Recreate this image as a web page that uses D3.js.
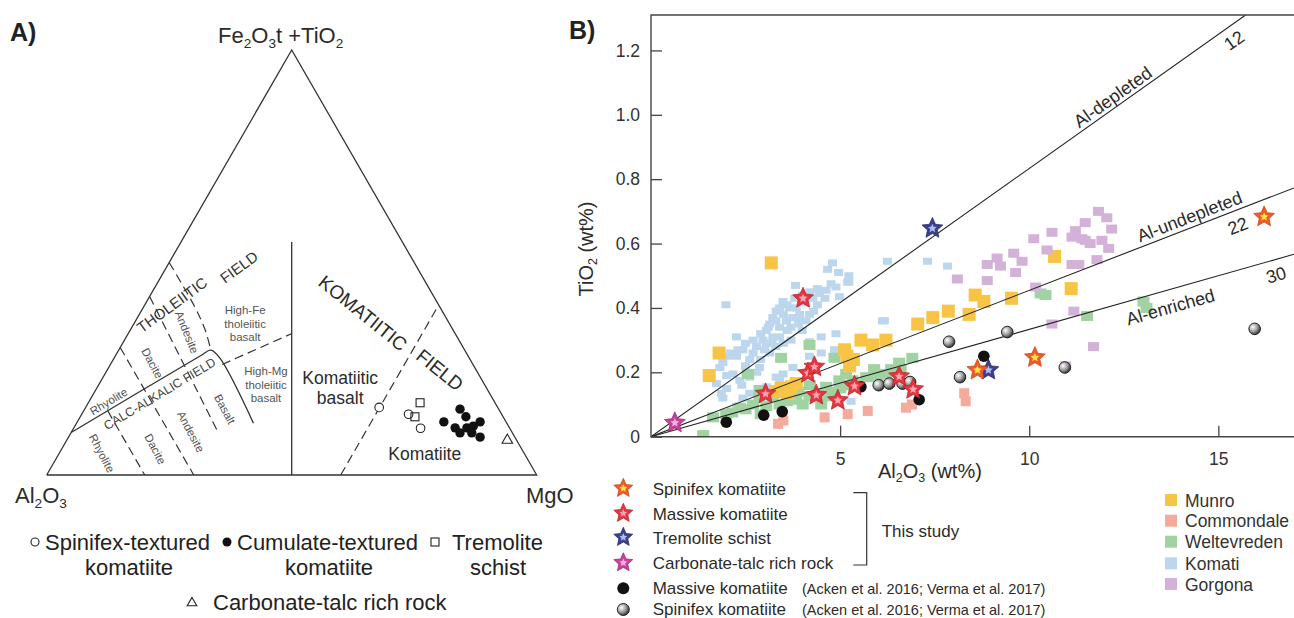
<!DOCTYPE html>
<html>
<head>
<meta charset="utf-8">
<script src="https://cdn.jsdelivr.net/npm/d3@7"></script>
<style>
  html, body { margin: 0; padding: 0; background: #fff; }
  svg { display: block; font-family: Arial, "Liberation Sans", Helvetica, sans-serif; }
</style>
</head>
<body>
<svg id="fig" width="1294" height="618"></svg>
<script>
// ================= Panel A: Jensen cation plot (Al, Fe+Ti, Mg; %) =================
const spinifexTern  = [[24.2, 15.9, 59.9], [19.0, 14.3, 66.7], [18.2, 11.0, 70.8]];
const tremoliteTern = [[15.3, 17.0, 67.7], [18.0, 13.7, 68.3]];
const cumulateTern  = [[7.9, 15.5, 76.6], [12.7, 12.5, 74.8], [7.6, 13.7, 78.7], [11.1, 11.1, 77.8],
                       [8.7, 11.1, 80.2], [5.3, 12.5, 82.2], [10.7, 9.9, 79.4], [8.3, 9.9, 81.8],
                       [7.1, 8.9, 84.0], [7.2, 11.5, 81.3]];
const carbonateTern = [[1.9, 8.2, 89.9]];

// field boundaries (ternary points)
const thCaBoundary   = [[90, 10, 0], [54.7, 28, 17.3], [51.8, 29.4, 18.8], [50.9, 27.5, 21.6], [51.7, 12.2, 36.1]];
const komatiiteSplit = [[50, 0, 50], [22.6, 54.8, 22.6]];
const dashedAl80     = [[80, 15.1, 4.9], [80, 0, 20]];
const dashedAl70     = [[70, 30, 0], [70, 0, 30]];
const dashedAl60     = [[58, 42, 0], [60, 10.2, 29.8]];
const dashedAl50     = [[50, 50, 0], [50, 39.6, 10.4], [50.6, 34.1, 15.3], [51.8, 29.4, 18.8]];
const dashedHighFeMg = [[51.2, 26, 22.8], [33.3, 33.3, 33.4]];
const dashedMg60     = [[40, 0, 60], [0, 40, 60]];

// ================= Panel B: TiO2 vs Al2O3 (wt%) =================
const munro = [[1.54,0.19],[1.80,0.26],[3.18,0.54],[3.31,0.14],[3.44,0.15],[3.62,0.135],[3.71,0.155],[3.84,0.165],
  [5.12,0.27],[5.18,0.25],[5.25,0.22],[5.35,0.24],[5.55,0.30],[5.86,0.285],[6.21,0.30],[7.05,0.35],[7.45,0.37],
  [7.86,0.39],[8.41,0.38],[8.57,0.44],[8.80,0.42],[9.53,0.43],[10.67,0.56],[11.11,0.46]];
const commondale = [[3.36,0.04],[3.50,0.05],[4.59,0.06],[5.20,0.07],[5.73,0.08],[6.74,0.09],[6.90,0.10],[8.28,0.135],[8.32,0.11]];
const weltevreden = [[1.38,0.005],[1.64,0.06],[1.99,0.07],[2.35,0.09],[2.70,0.10],[2.87,0.12],[2.87,0.145],[3.22,0.125],
  [3.40,0.10],[3.84,0.115],[4.01,0.10],[4.19,0.125],[4.63,0.155],[4.63,0.125],[4.98,0.175],[5.16,0.195],[5.33,0.175],
  [5.69,0.185],[5.86,0.185],[6.21,0.195],[6.56,0.23],[6.91,0.245],[2.56,0.195],[3.44,0.245],[4.19,0.285],[4.85,0.245],
  [10.30,0.445],[10.43,0.44],[11.53,0.375],[13.02,0.42],[13.10,0.40],[2.15,0.075],[3.05,0.095],[3.60,0.11],[4.40,0.135],
  [5.00,0.15],[5.50,0.165],[6.00,0.19],[6.35,0.21],[2.50,0.085],[4.80,0.14],[3.30,0.14],[3.90,0.14],[4.50,0.10],
  [5.20,0.16],[5.90,0.21],[6.60,0.21],[2.90,0.07],[4.20,0.16]];
const komati = [[1.98,0.41],[2.26,0.31],[4.80,0.54],[4.96,0.51],[5.23,0.50],[5.23,0.48],[4.67,0.52],[4.76,0.475],
  [3.82,0.47],[6.25,0.545],[7.31,0.545],[7.84,0.53],[6.17,0.36],[4.89,0.32],[4.50,0.26],[5.29,0.11],
  [1.73,0.165],[1.86,0.135],[1.82,0.215],[2.04,0.25],[2.26,0.25],[2.43,0.27],[2.61,0.24],[2.79,0.28],[2.96,0.30],
  [3.05,0.33],[3.14,0.35],[3.22,0.37],[3.31,0.39],[3.40,0.40],[3.49,0.42],[3.66,0.40],[3.84,0.40],[4.10,0.415],
  [4.28,0.43],[4.45,0.445],[4.63,0.455],[4.89,0.465],[4.98,0.435],[3.05,0.29],[3.22,0.31],[3.40,0.34],[3.58,0.36],
  [3.75,0.37],[3.93,0.38],[4.19,0.38],[2.87,0.215],[3.14,0.26],[2.61,0.185],[2.17,0.195],[2.35,0.175],[2.43,0.12],
  [2.61,0.135],[3.31,0.185],[3.49,0.195],[3.75,0.215],[4.19,0.25],[4.19,0.295],[2.26,0.095],[3.40,0.175],[3.05,0.155],
  [4.50,0.31],[4.85,0.27],[5.20,0.48],[6.12,0.36],[2.70,0.26],[2.90,0.24],[3.60,0.33],[3.90,0.35],[4.10,0.36],
  [4.40,0.41],[4.60,0.43],[3.30,0.28],[2.50,0.22],[2.00,0.19],[3.70,0.30],[4.00,0.33],
  [1.90,0.23],[2.10,0.26],[2.30,0.27],[2.50,0.29],[2.70,0.30],[2.90,0.32],[3.10,0.34],[3.30,0.36],[3.50,0.38],
  [3.60,0.41],[3.80,0.43],[4.00,0.44],[4.20,0.45],[4.40,0.46],[3.00,0.27],[3.20,0.29],[3.40,0.31],[3.50,0.29],
  [3.70,0.34],[3.90,0.37],[4.30,0.39],[2.80,0.20],[2.40,0.16],[2.00,0.15],[1.90,0.12]];
const gorgona = [[8.10,0.49],[8.89,0.485],[8.89,0.535],[9.15,0.555],[9.24,0.53],[9.59,0.57],[9.64,0.51],[9.81,0.545],
  [10.12,0.615],[10.17,0.465],[10.47,0.58],[10.60,0.635],[10.60,0.35],[10.96,0.22],[11.13,0.535],[11.13,0.62],
  [11.18,0.39],[11.22,0.64],[11.31,0.535],[11.39,0.615],[11.48,0.665],[11.48,0.61],[11.61,0.60],[11.70,0.28],
  [11.79,0.55],[11.83,0.70],[11.92,0.61],[12.05,0.68],[12.10,0.585],[12.18,0.645]];
const massiveLit  = [[1.99,0.045],[2.98,0.067],[3.47,0.078],[5.55,0.155],[7.09,0.115],[8.80,0.25]];
const spinifexLit = [[6.02,0.16],[6.30,0.165],[6.65,0.165],[6.85,0.17],[7.88,0.295],[8.17,0.185],[9.42,0.325],[10.94,0.215],[15.96,0.335]];
const spinifexStudy  = [[8.63,0.207],[10.15,0.246],[16.21,0.683]];
const massiveStudy   = [[3.03,0.133],[4.02,0.43],[4.15,0.197],[4.32,0.217],[4.37,0.129],[4.94,0.113],[5.38,0.157],[6.56,0.187],[6.93,0.147]];
const tremoliteStudy = [[7.44,0.647],[8.92,0.207]];
const carbonateStudy = [[0.63,0.043]];

const alTiRatios   = [12, 22, 30];
const ratioNames   = ["Al-depleted", "Al-undepleted", "Al-enriched"];
const yTickValues  = [0, 0.2, 0.4, 0.6, 0.8, 1.0, 1.2];
const xTickValues  = [5, 10, 15];
const provinceNames = ["Munro", "Commondale", "Weltevreden", "Komati", "Gorgona"];
const studyNames    = ["Spinifex komatiite", "Massive komatiite", "Tremolite schist", "Carbonate-talc rich rock"];
const litNames      = ["Massive komatiite", "Spinifex komatiite"];
const litSource     = "(Acken et al. 2016; Verma et al. 2017)";

// ---------------------------------------------------------------------------
const svg = d3.select("#fig");
const INK = "#2b2b2b";

// write text with chemical subscripts marked as _n
function formula(sel, str, fs) {
  const parts = str.split(/(_\d)/).filter(p => p !== "");
  let wasSub = false;
  parts.forEach(p => {
    if (p[0] === "_") {
      sel.append("tspan").attr("font-size", fs * 0.62).attr("dy", fs * 0.22).text(p.slice(1));
      wasSub = true;
    } else {
      const t = sel.append("tspan").text(p);
      if (wasSub) { t.attr("dy", -fs * 0.22); wasSub = false; }
    }
  });
  return sel;
}

// ---------------- Panel A ----------------
const tx = d3.scaleLinear().domain([0, 1]).range([46.7, 536.7]);
const ty = d3.scaleLinear().domain([0, 1]).range([475, 50]);
function tern(p) {
  const s = p[0] + p[1] + p[2];
  const fe = p[1] / s, mg = p[2] / s;
  return [tx(mg + fe / 2), ty(fe)];
}
const tLine = d3.line().x(p => tern(p)[0]).y(p => tern(p)[1]);
const tCurve = d3.line().x(p => tern(p)[0]).y(p => tern(p)[1]).curve(d3.curveCatmullRom);
const A = svg.append("g");

// frame
A.append("path").attr("d", tLine([[100,0,0],[0,100,0],[0,0,100],[100,0,0]]))
  .attr("fill", "none").attr("stroke", "#333").attr("stroke-width", 1.3);

// boundaries
A.append("path").attr("d", tCurve(thCaBoundary))
  .attr("fill", "none").attr("stroke", "#333").attr("stroke-width", 1.3);
A.append("path").attr("d", tLine(komatiiteSplit))
  .attr("fill", "none").attr("stroke", "#333").attr("stroke-width", 1.3);
[dashedAl80, dashedAl70, dashedAl60, dashedHighFeMg, dashedMg60].forEach(seg => {
  A.append("path").attr("d", tLine(seg)).attr("fill", "none").attr("stroke", "#333")
    .attr("stroke-width", 1.2).attr("stroke-dasharray", "9,5");
});
A.append("path").attr("d", tCurve(dashedAl50))
  .attr("fill", "none").attr("stroke", "#333").attr("stroke-width", 1.2).attr("stroke-dasharray", "9,5");

// field names
const fieldLabels = [
  { text: "THOLEIITIC", at: [54.4, 40, 5.6], rot: -36, fs: 15, fill: "#333" },
  { text: "FIELD", at: [36.3, 48.9, 14.8], rot: -36, fs: 15, fill: "#333" },
  { text: "CALC-ALKALIC FIELD", at: [67.4, 19.1, 13.5], rot: -31, fs: 12.5, fill: "#444" },
  { text: "Rhyolite", at: [78.7, 17.3, 4.0], rot: -31, fs: 11.5, fill: "#555" },
  { text: "Dacite", at: [65.3, 26.3, 8.4], rot: 62, fs: 11.5, fill: "#555" },
  { text: "Andesite", at: [54.6, 33.6, 11.8], rot: 68, fs: 11.5, fill: "#555" },
  { text: "Rhyolite", at: [86.2, 5.1, 8.7], rot: 62, fs: 11.5, fill: "#555" },
  { text: "Dacite", at: [74.8, 6.1, 19.1], rot: 62, fs: 11.5, fill: "#555" },
  { text: "Andesite", at: [65.5, 10.2, 24.3], rot: 62, fs: 11.5, fill: "#555" },
  { text: "Basalt", at: [55.9, 15.5, 28.6], rot: 62, fs: 11.5, fill: "#555" },
  { text: "KOMATIITIC", at: [16.4, 38.1, 45.5], rot: 39, fs: 19, fill: "#2b2b2b" },
  { text: "FIELD", at: [7.4, 24.7, 67.9], rot: 39, fs: 19, fill: "#2b2b2b" }
];
fieldLabels.forEach(l => {
  const [px, py] = tern(l.at);
  A.append("text").attr("transform", `translate(${px},${py}) rotate(${l.rot})`)
    .attr("text-anchor", "middle").attr("dy", "0.35em")
    .attr("font-size", l.fs).attr("fill", l.fill).text(l.text);
});
const stackedLabels = [
  { lines: ["High-Fe", "tholeiitic", "basalt"], at: [41.7, 35.6, 22.7], fs: 11.5, gap: 13.4, fill: "#555" },
  { lines: ["High-Mg", "tholeiitic", "basalt"], at: [44.6, 21.3, 34.1], fs: 11.5, gap: 13.8, fill: "#555" },
  { lines: ["Komatiitic", "basalt"], at: [29.8, 20.6, 49.6], fs: 17.5, gap: 20, fill: "#2b2b2b" },
  { lines: ["Komatiite"], at: [20.4, 4.9, 74.7], fs: 17.5, gap: 0, fill: "#2b2b2b" }
];
stackedLabels.forEach(l => {
  const [px, py] = tern(l.at);
  const n = l.lines.length;
  l.lines.forEach((s, i) => {
    A.append("text").attr("x", px).attr("y", py + (i - (n - 1) / 2) * l.gap)
      .attr("dy", "0.35em").attr("text-anchor", "middle")
      .attr("font-size", l.fs).attr("fill", l.fill).text(s);
  });
});

// samples
A.append("g").selectAll("circle").data(spinifexTern).join("circle")
  .attr("cx", d => tern(d)[0]).attr("cy", d => tern(d)[1]).attr("r", 4.3)
  .attr("fill", "#fff").attr("stroke", "#222").attr("stroke-width", 1.1);
A.append("g").selectAll("rect").data(tremoliteTern).join("rect")
  .attr("x", d => tern(d)[0] - 4).attr("y", d => tern(d)[1] - 4).attr("width", 8).attr("height", 8)
  .attr("fill", "none").attr("stroke", "#222").attr("stroke-width", 1.1);
A.append("g").selectAll("circle").data(cumulateTern).join("circle")
  .attr("cx", d => tern(d)[0]).attr("cy", d => tern(d)[1]).attr("r", 4.7).attr("fill", "#111");
const triSym = d3.symbol(d3.symbolTriangle, 48);
A.append("g").selectAll("path").data(carbonateTern).join("path")
  .attr("transform", d => `translate(${tern(d)[0]},${tern(d)[1]})`).attr("d", triSym)
  .attr("fill", "none").attr("stroke", "#222").attr("stroke-width", 1.1);

// apex names
formula(A.append("text").attr("x", 218).attr("y", 43).attr("font-size", 22).attr("fill", INK), "Fe_2O_3t +TiO_2", 22);
formula(A.append("text").attr("x", 15).attr("y", 503).attr("font-size", 22).attr("fill", INK), "Al_2O_3", 22);
A.append("text").attr("x", 526).attr("y", 503).attr("font-size", 22).attr("fill", INK).text("MgO");
svg.append("text").attr("x", 10).attr("y", 41).attr("font-size", 25).attr("font-weight", "bold").attr("fill", "#222").text("A)");

// legend A
const LA = svg.append("g").attr("font-size", 22).attr("fill", "#222");
LA.append("circle").attr("cx", 35).attr("cy", 542).attr("r", 4).attr("fill", "#fff").attr("stroke", "#222").attr("stroke-width", 1.1);
LA.append("text").attr("x", 45).attr("y", 550).text("Spinifex-textured");
LA.append("text").attr("x", 129).attr("y", 575).attr("text-anchor", "middle").text("komatiite");
LA.append("circle").attr("cx", 227).attr("cy", 542).attr("r", 4.5).attr("fill", "#111");
LA.append("text").attr("x", 237).attr("y", 550).text("Cumulate-textured");
LA.append("text").attr("x", 329).attr("y", 575).attr("text-anchor", "middle").text("komatiite");
LA.append("rect").attr("x", 431).attr("y", 538).attr("width", 8).attr("height", 8).attr("fill", "none").attr("stroke", "#222").attr("stroke-width", 1.1);
LA.append("text").attr("x", 452).attr("y", 550).text("Tremolite");
LA.append("text").attr("x", 498).attr("y", 575).attr("text-anchor", "middle").text("schist");
LA.append("path").attr("transform", "translate(192,603)").attr("d", d3.symbol(d3.symbolTriangle, 40))
  .attr("fill", "none").attr("stroke", "#222").attr("stroke-width", 1.1);
LA.append("text").attr("x", 213).attr("y", 610).text("Carbonate-talc rich rock");

// ---------------- Panel B ----------------
const x = d3.scaleLinear().domain([0, 17]).range([651, 1294]);
const y = d3.scaleLinear().domain([0, 1.31]).range([436.7, 15]);
const B = svg.append("g");

B.append("defs").append("clipPath").attr("id", "plotClip")
  .append("rect").attr("x", x(0)).attr("y", y(1.31)).attr("width", x(17) - x(0)).attr("height", y(0) - y(1.31));

const provinceColors = ["#F8C446", "#F5AB9B", "#A1D2A2", "#BCD6EE", "#D3B1D8"];
const provinceSizes  = [[13, 13], [10, 10], [12, 10], [9, 7], [11, 9]];
const provinceData   = [munro, commondale, weltevreden, komati, gorgona];
const drawOrder = [3, 2, 0, 1, 4];
const pts = B.append("g").attr("clip-path", "url(#plotClip)");
drawOrder.forEach(i => {
  const [w, h] = provinceSizes[i];
  pts.append("g").selectAll("rect").data(provinceData[i]).join("rect")
    .attr("x", d => x(d[0]) - w / 2).attr("y", d => y(d[1]) - h / 2)
    .attr("width", w).attr("height", h).attr("fill", provinceColors[i]);
});

// Al2O3/TiO2 reference lines
const refLine = d3.line().x(d => x(d[0])).y(d => y(d[1]));
alTiRatios.forEach(r => {
  const xmax = Math.min(17, 1.31 * r);
  pts.append("path").attr("d", refLine([[0, 0], [xmax, xmax / r]]))
    .attr("fill", "none").attr("stroke", "#222").attr("stroke-width", 1.1);
});
function lineAngle(r) {
  return Math.atan2(y(0) - y(10 / r), x(10) - x(0)) * 180 / Math.PI;
}
const ratioLabelLayout = [
  { at: 12.36, off: -10, fs: 18 },
  { at: 14.34, off: -11, fs: 18 },
  { at: 13.61, off: 17, fs: 18 }
];
const ratioValueLayout = [
  { at: 15.2, off: 14 },
  { at: 15.37, off: 15 },
  { at: 16.42, off: 15 }
];
alTiRatios.forEach((r, i) => {
  const ang = lineAngle(r);
  const place = (al, off, txt, fs) => {
    const px = x(al), py = y(al / r);
    const rad = ang * Math.PI / 180;
    const ox = px + off * Math.sin(rad), oy = py + off * Math.cos(rad);
    B.append("text").attr("transform", `translate(${ox},${oy}) rotate(${-ang})`)
      .attr("text-anchor", "middle").attr("dy", "0.35em").attr("font-size", fs).attr("fill", INK).text(txt);
  };
  place(ratioLabelLayout[i].at, ratioLabelLayout[i].off, ratioNames[i], ratioLabelLayout[i].fs);
  place(ratioValueLayout[i].at, ratioValueLayout[i].off, String(r), 18);
});

// literature komatiites
const defs = svg.append("defs");
const grad = defs.append("radialGradient").attr("id", "greyBall").attr("cx", "35%").attr("cy", "35%").attr("r", "70%");
grad.append("stop").attr("offset", "0%").attr("stop-color", "#ffffff");
grad.append("stop").attr("offset", "55%").attr("stop-color", "#9a9a9a");
grad.append("stop").attr("offset", "100%").attr("stop-color", "#2a2a2a");

pts.append("g").selectAll("circle").data(massiveLit).join("circle")
  .attr("cx", d => x(d[0])).attr("cy", d => y(d[1])).attr("r", 5.8).attr("fill", "#111");
pts.append("g").selectAll("circle").data(spinifexLit).join("circle")
  .attr("cx", d => x(d[0])).attr("cy", d => y(d[1])).attr("r", 5.8)
  .attr("fill", "url(#greyBall)").attr("stroke", "#222").attr("stroke-width", 1);

// stars
function starPath(R) {
  const p = d3.range(10).map(i => [i * Math.PI / 5, i % 2 ? R * 0.47 : R]);
  return d3.lineRadial().curve(d3.curveLinearClosed)(p);
}
const starStyles = [
  { fill: "#F15A24", inner: "#FFE24A", stroke: "#C0451A" },
  { fill: "#E8353B", inner: "#F5A3B5", stroke: "#B21F2A" },
  { fill: "#3C3F8F", inner: "#A9C2EA", stroke: "#24265C" },
  { fill: "#C6409C", inner: "#F4B1DF", stroke: "#8C286E" }
];
function drawStar(g, cx, cy, R, st) {
  const s = g.append("g").attr("transform", `translate(${cx},${cy})`);
  s.append("path").attr("d", starPath(R)).attr("fill", st.fill).attr("stroke", st.stroke).attr("stroke-width", 0.7).attr("stroke-linejoin", "round");
  s.append("path").attr("d", starPath(R * 0.42)).attr("fill", st.inner);
}
const studySets = [spinifexStudy, massiveStudy, tremoliteStudy, carbonateStudy];
[3, 2, 1, 0].forEach(i => {
  studySets[i].forEach(d => drawStar(pts, x(d[0]), y(d[1]), 11, starStyles[i]));
});

// axes
const yAxis = d3.axisLeft(y).tickValues(yTickValues).tickSize(-11).tickPadding(11)
  .tickFormat(d => d === 0 ? "0" : d3.format(".1f")(d));
const xAxis = d3.axisBottom(x).tickValues(xTickValues).tickSize(-11).tickPadding(16).tickFormat(d3.format("d"));
const gy = B.append("g").attr("transform", `translate(${x(0)},0)`).call(yAxis);
const gx = B.append("g").attr("transform", `translate(0,${y(0)})`).call(xAxis);
[gx, gy].forEach(g => {
  g.select(".domain").remove();
  g.selectAll(".tick line").attr("stroke", "#444").attr("stroke-width", 1.3);
  g.selectAll(".tick text").attr("font-size", 17.5).attr("fill", "#333")
    .attr("font-family", "Arial, 'Liberation Sans', Helvetica, sans-serif");
});
B.append("path")
  .attr("d", `M${x(17) + 2},${y(1.31)}H${x(0)}V${y(0)}H${x(17) + 2}`)
  .attr("fill", "none").attr("stroke", "#444").attr("stroke-width", 1.4);

formula(B.append("text").attr("x", 878).attr("y", 478).attr("font-size", 20).attr("fill", INK), "Al_2O_3 (wt%)", 20);
formula(B.append("text").attr("transform", "translate(593,249) rotate(-90)").attr("text-anchor", "middle")
  .attr("font-size", 20).attr("fill", INK), "TiO_2 (wt%)", 20);
svg.append("text").attr("x", 569).attr("y", 39).attr("font-size", 25).attr("font-weight", "bold").attr("fill", "#222").text("B)");

// legend B: this study
const LB = svg.append("g").attr("fill", INK);
const studyY = [488.3, 513.3, 537.3, 562.7];
studyNames.forEach((n, i) => {
  drawStar(LB, 623.3, studyY[i], 10, starStyles[i]);
  LB.append("text").attr("x", 652.7).attr("y", studyY[i] + 6.5).attr("font-size", 17).text(n);
});
LB.append("path").attr("d", "M853.3,492.7H866.7V565H853.3").attr("fill", "none").attr("stroke", "#333").attr("stroke-width", 1.2);
LB.append("text").attr("x", 881.7).attr("y", 537).attr("font-size", 17).text("This study");

// legend B: literature
const litY = [588.3, 609.5];
LB.append("circle").attr("cx", 623.3).attr("cy", litY[0]).attr("r", 6).attr("fill", "#111");
LB.append("circle").attr("cx", 623.3).attr("cy", litY[1]).attr("r", 6).attr("fill", "url(#greyBall)").attr("stroke", "#222").attr("stroke-width", 1);
litNames.forEach((n, i) => {
  LB.append("text").attr("x", 652.7).attr("y", litY[i] + 5.5).attr("font-size", 17).text(n);
  LB.append("text").attr("x", 802).attr("y", litY[i] + 5.5).attr("font-size", 14.5).text(litSource);
});

// legend B: provinces
const provY = [500, 520.7, 541.7, 563.3, 584];
provinceNames.forEach((n, i) => {
  LB.append("rect").attr("x", 1165).attr("y", provY[i] - 6).attr("width", 12).attr("height", 12).attr("fill", provinceColors[i]);
  LB.append("text").attr("x", 1185).attr("y", provY[i] + 6.5).attr("font-size", 17.5).attr("fill", "#333").text(n);
});
</script>
</body>
</html>
